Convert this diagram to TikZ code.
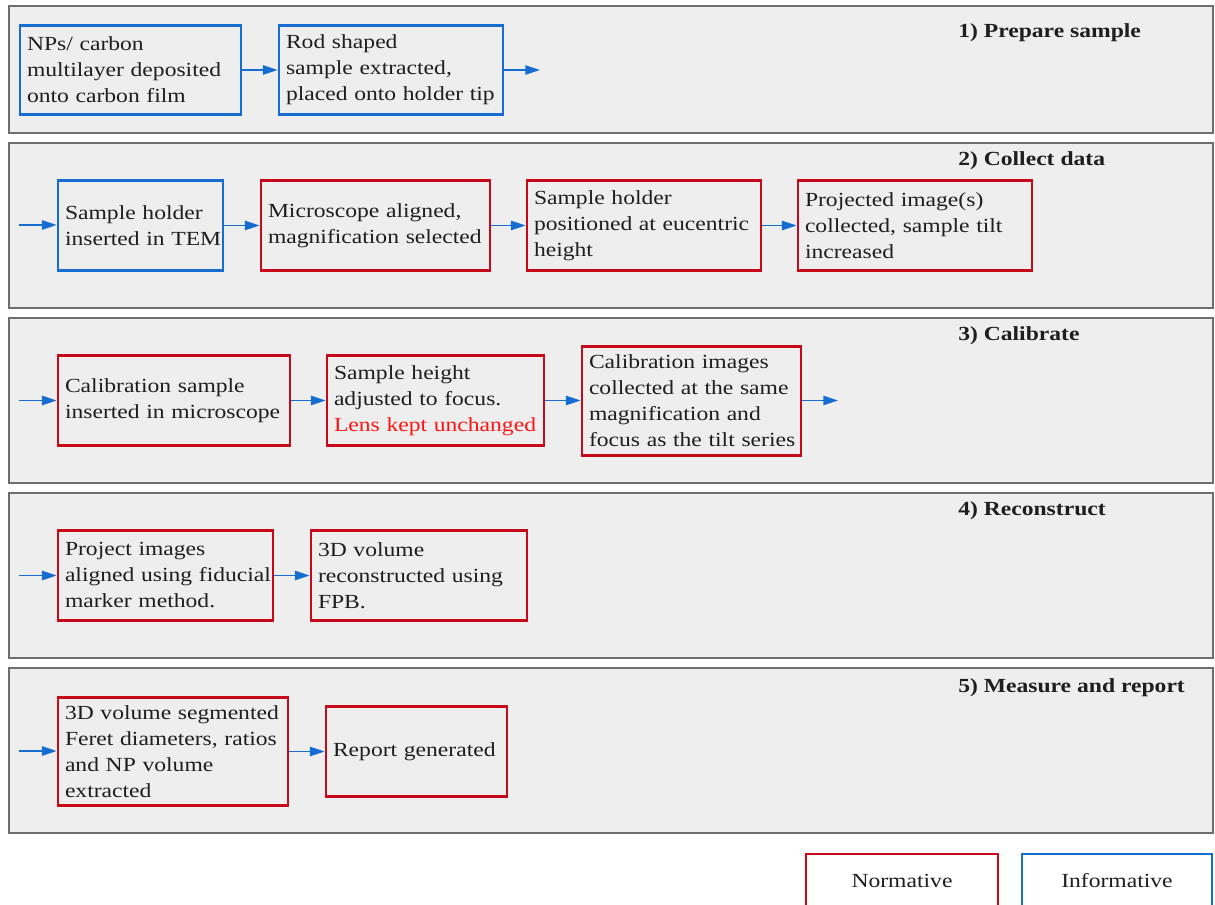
\documentclass[tikz,border=0pt]{standalone}
\usepackage{fontspec}
\setmainfont{Liberation Serif}[FakeStretch=1.18]
\usetikzlibrary{arrows.meta}
\definecolor{nblue}{RGB}{22,108,208}
\definecolor{nred}{RGB}{198,10,28}
\definecolor{lensred}{RGB}{255,20,20}
\definecolor{panelfill}{RGB}{238,238,238}
\definecolor{panelline}{RGB}{110,110,110}
\definecolor{txt}{RGB}{30,30,30}
\newcommand\TL[1]{\mbox{#1}}
\begin{document}
\begin{tikzpicture}[x=0.75pt,y=-0.75pt,
  every node/.style={font=\fontsize{15pt}{19.5pt}\selectfont, text=txt},
  panel/.style={draw=panelline, fill=panelfill, line width=1.1pt, minimum width=903pt, inner sep=0pt},
  bx/.style={line width=2.1pt, inner xsep=5.25pt, inner ysep=0pt, align=left},
  norm/.style={bx, draw=nred},
  info/.style={bx, draw=nblue},
  legbox/.style={line width=2.1pt, inner sep=0pt, align=center, minimum height=40.5pt},
  arr/.style={draw=nblue, line width=1.1pt, -{Triangle[length=11pt,width=7pt]}},
  ttl/.style={font=\bfseries\fontsize{15pt}{19.5pt}\selectfont, anchor=base west, inner sep=0pt}]
\useasboundingbox (0,0) rectangle (1215,905);
\clip (0,0) rectangle (1215,905);
\fill[white] (0,0) rectangle (1215,905);

% panels
\node[panel, minimum height=95.25pt] (P1) at (611,69.5) {};
\node[panel, minimum height=123.75pt] (P2) at (611,225.5) {};
\node[panel, minimum height=123.75pt] (P3) at (611,400.5) {};
\node[panel, minimum height=123.75pt] (P4) at (611,575.5) {};
\node[panel, minimum height=123.75pt] (P5) at (611,750.5) {};

% titles
\node[ttl] (T1) at (958,38) {1) Prepare sample};
\node[ttl] (T2) at (958,166) {2) Collect data};
\node[ttl] (T3) at (958,341) {3) Calibrate};
\node[ttl] (T4) at (958,516) {4) Reconstruct};
\node[ttl] (T5) at (958,692) {5) Measure and report};

% panel 1
\node[info, minimum width=165.75pt, text width=155.25pt, minimum height=66.75pt] (A1) at (130.5,70)
  {\TL{NPs/ carbon}\\\TL{multilayer deposited}\\\TL{onto carbon film}};
\node[info, minimum width=168pt, text width=157.5pt, minimum height=66.75pt] (A2) at (391,70)
  {\TL{Rod shaped}\\\TL{sample extracted,}\\\TL{placed onto holder tip}};
\coordinate (A3) at (540,70);
\draw[arr] (A1) -- (A2);
\draw[arr] (A2) -- (A3);

% panel 2
\coordinate (B0) at (19,225);
\node[info, minimum width=123.75pt, text width=113.25pt, minimum height=67.5pt] (B1) at (140.5,225.5)
  {\TL{Sample holder}\\\TL{inserted in TEM}};
\node[norm, minimum width=171.75pt, text width=161.25pt, minimum height=67.5pt] (B2) at (375.5,225.5)
  {\TL{Microscope aligned,}\\\TL{magnification selected}};
\node[norm, minimum width=175.5pt, text width=165pt, minimum height=67.5pt] (B3) at (644,225.5)
  {\TL{Sample holder}\\\TL{positioned at eucentric}\\\TL{height}};
\node[norm, minimum width=175.5pt, text width=165pt, minimum height=67.5pt] (B4) at (915,225.5)
  {\TL{Projected image(s)}\\\TL{collected, sample tilt}\\\TL{increased}};
\draw[arr] (B0) -- (B0 -| B1.west);
\draw[arr] (B1) -- (B2);
\draw[arr] (B2) -- (B3);
\draw[arr] (B3) -- (B4);

% panel 3
\coordinate (C0) at (19,400.5);
\node[norm, minimum width=174pt, text width=163.5pt, minimum height=67.5pt] (C1) at (174,400.5)
  {\TL{Calibration sample}\\\TL{inserted in microscope}};
\node[norm, minimum width=162.75pt, text width=152.25pt, minimum height=67.5pt] (C2) at (435.5,400.5)
  {\TL{Sample height}\\\TL{adjusted to focus.}\\\TL{\textcolor{lensred}{Lens kept unchanged}}};
\node[norm, minimum width=164.25pt, text width=153.75pt, minimum height=81.75pt] (C3) at (691.5,401)
  {\TL{Calibration images}\\\TL{collected at the same}\\\TL{magnification and}\\\TL{focus as the tilt series}};
\coordinate (C4) at (838,400.5);
\draw[arr] (C0) -- (C1);
\draw[arr] (C1) -- (C2);
\draw[arr] (C2) -- (C2.east -| C3.west);
\draw[arr] (C3.east |- C4) -- (C4);

% panel 4
\coordinate (D0) at (19,575.5);
\node[norm, minimum width=161.25pt, text width=150.75pt, minimum height=67.5pt] (D1) at (165.5,575.5)
  {\TL{Project images}\\\TL{aligned using fiducial}\\\TL{marker method.}};
\node[norm, minimum width=162pt, text width=151.5pt, minimum height=67.5pt] (D2) at (419,575.5)
  {\TL{3D volume}\\\TL{reconstructed using}\\\TL{FPB.}};
\draw[arr] (D0) -- (D1);
\draw[arr] (D1) -- (D2);

% panel 5
\coordinate (E0) at (19,751);
\node[norm, minimum width=172.5pt, text width=162pt, minimum height=81pt] (E1) at (173,751.5)
  {\TL{3D volume segmented}\\\TL{Feret diameters, ratios}\\\TL{and NP volume}\\\TL{extracted}};
\node[norm, minimum width=135.75pt, text width=125.25pt, minimum height=67.5pt] (E2) at (416.5,751.5)
  {\TL{Report generated}};
\draw[arr] (E0) -- (E0 -| E1.west);
\draw[arr] (E1) -- (E2);

% legend
\node[legbox, draw=nred, minimum width=144pt] (LN) at (902,881) {Normative};
\node[legbox, draw=nblue, minimum width=142.5pt] (LI) at (1117,881) {Informative};
\end{tikzpicture}
\end{document}
